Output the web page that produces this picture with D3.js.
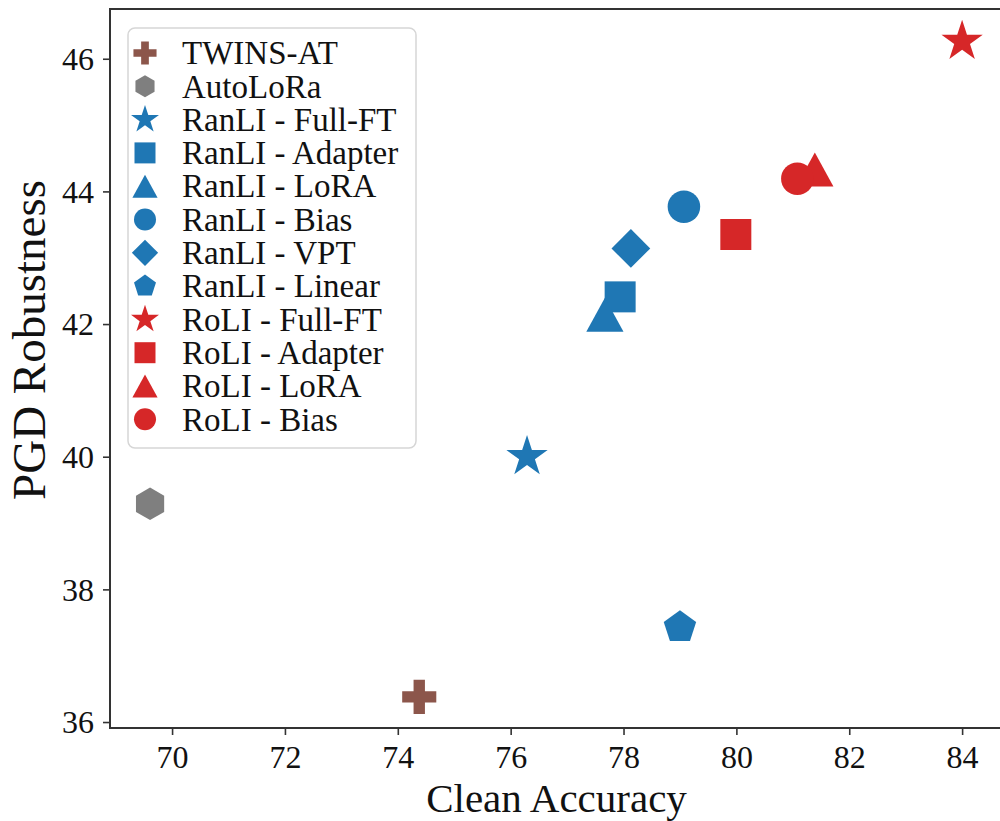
<!DOCTYPE html>
<html>
<head>
<meta charset="utf-8">
<script src="https://cdn.jsdelivr.net/npm/d3@7"></script>
<style>
  body { margin: 0; background: #fff; }
  svg { display: block; }
  text { font-family: "Liberation Serif", "Times New Roman", serif; fill: #111; }
</style>
</head>
<body>
<div id="chart"></div>
<script>
// methods, in legend order
var methods = ["TWINS-AT", "AutoLoRa",
  "RanLI - Full-FT", "RanLI - Adapter", "RanLI - LoRA", "RanLI - Bias", "RanLI - VPT", "RanLI - Linear",
  "RoLI - Full-FT", "RoLI - Adapter", "RoLI - LoRA", "RoLI - Bias"]
var cleanAcc = [74.38, 69.61, 76.29, 77.94, 77.67, 79.07, 78.13, 79.0, 84.0, 79.99, 81.39, 81.08]
var pgdRob   = [36.38, 39.29, 40.0, 42.41, 42.14, 43.77, 43.14, 37.43, 46.26, 43.35, 44.33, 44.19]
var shapes = ["plus", "hexagon", "star", "square", "triangle", "circle", "diamond", "pentagon",
  "star", "square", "triangle", "circle"]
var colors = ["#8c564b", "#7f7f7f",
  "#1f77b4", "#1f77b4", "#1f77b4", "#1f77b4", "#1f77b4", "#1f77b4",
  "#d62728", "#d62728", "#d62728", "#d62728"]
var xTicks = [70, 72, 74, 76, 78, 80, 82, 84]
var yTicks = [36, 38, 40, 42, 44, 46]

var width = 1000, height = 821
var plotLeft = 110, plotRight = 1005, plotTop = 9, plotBottom = 728

var x = d3.scaleLinear().domain([68.9, 84.76]).range([plotLeft, plotRight])
var y = d3.scaleLinear().domain([35.91, 46.75]).range([plotBottom, plotTop])

// marker outlines, s = half size in px
function polygon(n, r, rot) {
  var pts = []
  for (var i = 0; i < n; i++) {
    var a = rot + i * 2 * Math.PI / n
    pts.push([r * Math.sin(a), -r * Math.cos(a)])
  }
  return "M" + pts.join("L") + "Z"
}
function markerPath(shape, s) {
  if (shape == "circle") return d3.symbol(d3.symbolCircle, Math.PI * s * s * 1.1)()
  if (shape == "square") return "M" + [[-s, -s], [s, -s], [s, s], [-s, s]].join("L") + "Z"
  if (shape == "diamond") return polygon(4, s * 1.25, 0)
  if (shape == "hexagon") return polygon(6, s * 1.05, 0)
  if (shape == "pentagon") return polygon(5, s * 1.1, 0)
  if (shape == "triangle") return "M" + [[0, -s * 1.1], [s * 1.2, s * 1.1], [-s * 1.2, s * 1.1]].join("L") + "Z"
  if (shape == "star") {
    var R = s * 1.4, ri = R * 0.381966, pts = []
    for (var i = 0; i < 10; i++) {
      var a = i * Math.PI / 5, rr = i % 2 ? ri : R
      pts.push([rr * Math.sin(a), -rr * Math.cos(a)])
    }
    return "M" + pts.join("L") + "Z"
  }
  if (shape == "plus") {
    var a = s * 1.1, b = a / 3
    return "M" + [[-b, -a], [b, -a], [b, -b], [a, -b], [a, b], [b, b], [b, a], [-b, a], [-b, b], [-a, b], [-a, -b], [-b, -b]].join("L") + "Z"
  }
}

var svg = d3.select("#chart").append("svg")
  .attr("width", width)
  .attr("height", height)

// axes
var axisX = d3.axisBottom(x).tickValues(xTicks).tickSize(7).tickPadding(10).tickFormat(d3.format("d"))
var axisY = d3.axisLeft(y).tickValues(yTicks).tickSize(7).tickPadding(9).tickFormat(d3.format("d"))

var gx = svg.append("g").attr("transform", "translate(0," + plotBottom + ")").call(axisX)
var gy = svg.append("g").attr("transform", "translate(" + plotLeft + ",0)").call(axisY)
gx.select(".domain").remove()
gy.select(".domain").remove()
svg.selectAll(".tick line").attr("stroke", "#333").attr("stroke-width", 1.6)
svg.selectAll(".tick text")
  .style("font-family", "'Liberation Serif', serif")
  .style("font-size", "32px")
  .attr("fill", "#111")
gy.selectAll(".tick text").attr("dy", "0.34em")

// frame
svg.append("rect")
  .attr("x", plotLeft).attr("y", plotTop)
  .attr("width", plotRight - plotLeft).attr("height", plotBottom - plotTop)
  .attr("fill", "none").attr("stroke", "#333").attr("stroke-width", 2)

// axis labels
svg.append("text")
  .attr("x", (plotLeft + plotRight) / 2 - 1).attr("y", 812)
  .attr("text-anchor", "middle")
  .style("font-size", "41px")
  .text("Clean Accuracy")

svg.append("text")
  .attr("transform", "translate(45,340) rotate(-90)")
  .attr("text-anchor", "middle")
  .style("font-size", "47px")
  .text("PGD Robustness")

// points
svg.append("g").selectAll("path")
  .data(methods)
  .enter()
  .append("path")
  .attr("transform", function (d, i) { return "translate(" + x(cleanAcc[i]) + "," + y(pgdRob[i]) + ")" })
  .attr("d", function (d, i) { return markerPath(shapes[i], 15.5) })
  .attr("fill", function (d, i) { return colors[i] })

// legend
var legend = svg.append("g").attr("transform", "translate(128,28)")
legend.append("rect")
  .attr("width", 288).attr("height", 420)
  .attr("rx", 7)
  .attr("fill", "#fff").attr("fill-opacity", 0.85)
  .attr("stroke", "#d6d6d6").attr("stroke-width", 1.5)

var rows = legend.selectAll(".row")
  .data(methods)
  .enter()
  .append("g")
  .attr("class", "row")
  .attr("transform", function (d, i) { return "translate(0," + (25 + i * 33.3) + ")" })

rows.append("path")
  .attr("transform", "translate(17,0)")
  .attr("d", function (d, i) { return markerPath(shapes[i], 10.5) })
  .attr("fill", function (d, i) { return colors[i] })

rows.append("text")
  .attr("x", 54)
  .attr("dy", "0.34em")
  .style("font-size", "33px")
  .text(function (d) { return d })
</script>
</body>
</html>
